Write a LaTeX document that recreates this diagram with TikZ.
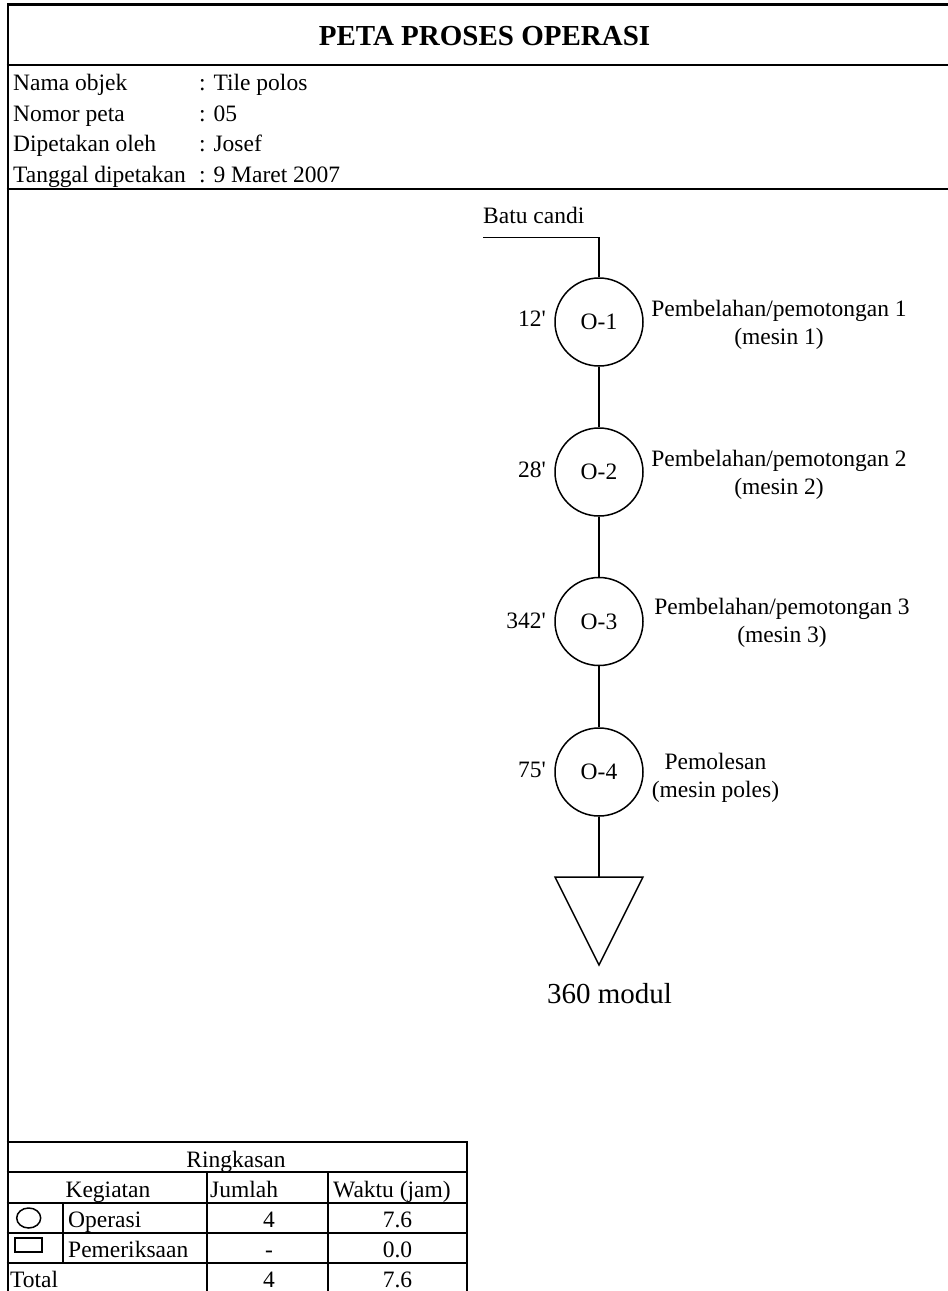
\documentclass[tikz,border=0pt]{standalone}
\usepackage{fontspec}
\newfontfamily\tnr{Liberation Serif}
\begin{document}
\begin{tikzpicture}[x=1pt,y=-1pt,
  txt/.style={font=\tnr\fontsize{23.5}{28}\selectfont, inner sep=0pt},
  bigtxt/.style={font=\tnr\fontsize{29}{34}\selectfont, inner sep=0pt},
  frame/.style={line width=2.8pt},
  tbl/.style={line width=2.6pt},
  flow/.style={line width=1.5pt},
  icon/.style={line width=1.5pt},
  op/.style={circle, draw, line width=1.5pt, minimum size=88pt, inner sep=0pt,
             font=\tnr\fontsize{23.5}{28}\selectfont}]
\useasboundingbox (0,0) rectangle (948,1291);
\fill[white] (0,0) rectangle (948,1291);

% outer frame and header rules
\draw[frame] (8,1291) -- (8,4.7) -- (948,4.7);
\draw[frame] (6.6,65) -- (948,65);
\draw[frame] (6.6,189) -- (948,189);

% title
\node[bigtxt, font=\tnr\bfseries\fontsize{29}{34}\selectfont, anchor=base] (title) at (484.5,45) {PETA PROSES OPERASI};

% info
\node[txt, anchor=base west] (l1) at (13,90.5) {Nama objek};
\node[txt, anchor=base west] (v1) at (199,90.5) {: Tile polos};
\node[txt, anchor=base west] (l2) at (13,121.2) {Nomor peta};
\node[txt, anchor=base west] (v2) at (199,121.2) {: 05};
\node[txt, anchor=base west] (l3) at (13,151.9) {Dipetakan oleh};
\node[txt, anchor=base west] (v3) at (199,151.9) {: Josef};
\node[txt, anchor=base west] (l4) at (13,182.6) {Tanggal dipetakan};
\node[txt, anchor=base west] (v4) at (199,182.6) {: 9 Maret 2007};

% flow
\node[txt, anchor=base west] (batu) at (483,223) {Batu candi};
\coordinate (start) at (483,237.7);
\node[op] (o1) at (599,322) {O-1};
\node[op] (o2) at (599,472) {O-2};
\node[op] (o3) at (599,621.5) {O-3};
\node[op] (o4) at (599,772) {O-4};
\coordinate (tri) at (599,877);
\draw[flow, line join=miter] (555,877) -- (643,877) -- (599,965) -- cycle;

\draw[flow] (start) -| (o1.north);
\draw[flow] (o1.south) -- (o2.north);
\draw[flow] (o2.south) -- (o3.north);
\draw[flow] (o3.south) -- (o4.north);
\draw[flow] (o4.south) -- (tri);

\node[txt, anchor=base east] (t1) at (546,326) {12'};
\node[txt, anchor=base east] (t2) at (546,477) {28'};
\node[txt, anchor=base east] (t3) at (546,628) {342'};
\node[txt, anchor=base east] (t4) at (546,777) {75'};

\node[txt, align=center] (d1) at (779,325) {Pembelahan/pemotongan 1\\(mesin 1)};
\node[txt, align=center] (d2) at (779,475) {Pembelahan/pemotongan 2\\(mesin 2)};
\node[txt, align=center] (d3) at (782,622.5) {Pembelahan/pemotongan 3\\(mesin 3)};
\node[txt, align=center] (d4) at (715.5,778) {Pemolesan\\(mesin poles)};

\node[bigtxt, anchor=base] (end) at (609.5,1003) {360 modul};

% summary table
\draw[tbl] (6.7,1142) -- (467,1142) -- (467,1291);
\draw[tbl] (6.7,1172) -- (467,1172);
\draw[tbl] (6.7,1203) -- (467,1203);
\draw[tbl] (6.7,1233) -- (467,1233);
\draw[tbl] (6.7,1263) -- (467,1263);
\draw[tbl] (207,1172) -- (207,1291);
\draw[tbl] (328,1172) -- (328,1291);
\draw[tbl] (63,1203) -- (63,1263);

\draw[icon] (28.7,1218) ellipse [x radius=12pt, y radius=10pt];
\draw[icon] (15,1238) rectangle (42,1252);

\node[txt, anchor=base] (ring) at (236,1167.3) {Ringkasan};
\node[txt, anchor=base] (keg) at (108,1197.3) {Kegiatan};
\node[txt, anchor=base west] (jum) at (210,1197.3) {Jumlah};
\node[txt, anchor=base west] (wak) at (333,1197.3) {Waktu (jam)};
\node[txt, anchor=base west] (opr) at (68,1227.3) {Operasi};
\node[txt, anchor=base] (oprj) at (269,1227.3) {4};
\node[txt, anchor=base] (oprw) at (397.5,1227.3) {7.6};
\node[txt, anchor=base west] (pem) at (68,1257.3) {Pemeriksaan};
\node[txt, anchor=base] (pemj) at (269,1257.3) {-};
\node[txt, anchor=base] (pemw) at (397.5,1257.3) {0.0};
\node[txt, anchor=base west] (tot) at (10,1287) {Total};
\node[txt, anchor=base] (totj) at (269,1287) {4};
\node[txt, anchor=base] (totw) at (397.5,1287) {7.6};
\end{tikzpicture}
\end{document}
